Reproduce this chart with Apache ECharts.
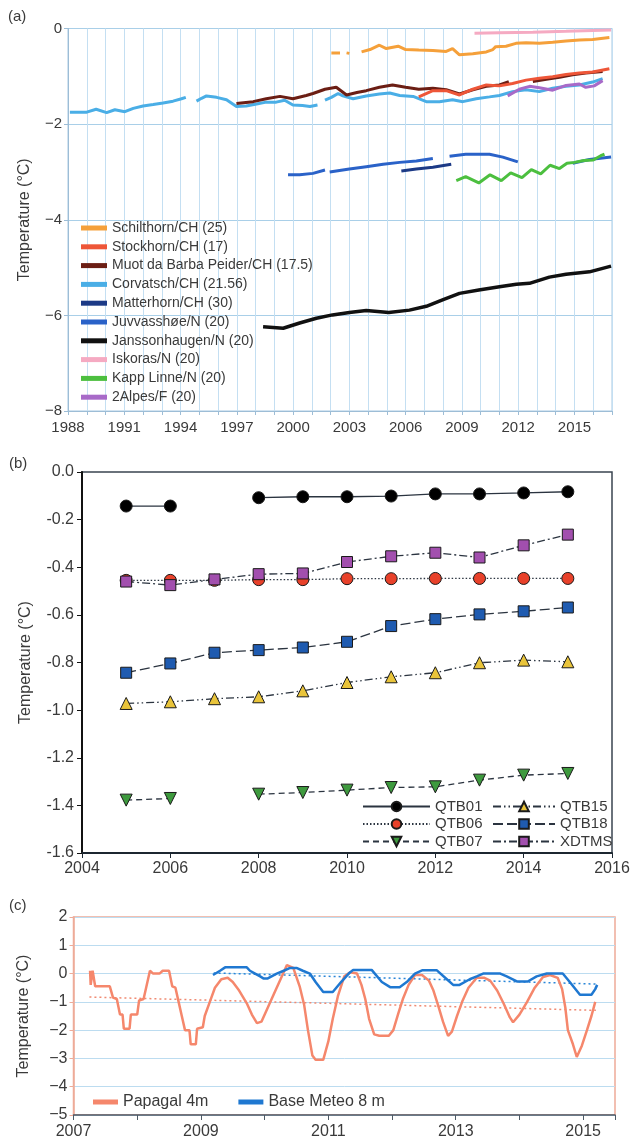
<!DOCTYPE html>
<html><head><meta charset="utf-8">
<script src="https://cdn.jsdelivr.net/npm/echarts@6/dist/echarts.min.js"></script>
<style>html,body{margin:0;padding:0;background:#fff}#c{width:635px;height:1142px}</style>
</head><body><div id="c"></div>
<script>
// ---------- Panel (a) data: [year, temperature] ----------
const schilthorn = [[2002.04,-0.51],[2002.5,-0.51],[2002.6,'-'],[2002.85,-0.51],[2003.0,-0.52],[2003.3,'-'],[2003.65,-0.49],[2004.1,-0.44],[2004.6,-0.35],[2004.97,-0.42],[2005.6,-0.37],[2006.0,-0.44],[2006.7,-0.45],[2007.45,-0.46],[2008.16,-0.48],[2008.5,-0.42],[2008.87,-0.55],[2009.58,-0.53],[2010.3,-0.49],[2010.65,-0.44],[2010.8,-0.38],[2011.35,-0.37],[2011.88,-0.31],[2012.42,-0.30],[2013.13,-0.31],[2013.84,-0.29],[2014.55,-0.26],[2015.26,-0.24],[2015.97,-0.23],[2016.86,-0.19]];
const stockhorn = [[2006.7,-1.43],[2007.45,-1.30],[2008.16,-1.30],[2008.87,-1.39],[2009.58,-1.27],[2010.3,-1.18],[2011.0,-1.20],[2011.7,-1.15],[2012.42,-1.08],[2013.13,-1.04],[2013.84,-1.01],[2014.55,-0.96],[2015.26,-0.93],[2015.97,-0.91],[2016.86,-0.84]];
const muot = [[1996.98,-1.57],[1997.87,-1.53],[1998.57,-1.47],[1999.3,-1.42],[1999.99,-1.47],[2000.7,-1.40],[2001.06,-1.36],[2001.7,-1.27],[2002.3,-1.23],[2002.85,-1.39],[2003.4,-1.34],[2003.9,-1.30],[2004.6,-1.23],[2005.3,-1.18],[2006.0,-1.23],[2006.7,-1.27],[2007.45,-1.25],[2008.16,-1.28],[2008.87,-1.37],[2009.58,-1.28],[2010.3,-1.21],[2011.0,-1.18],[2011.5,-1.11],[2012.0,'-'],[2012.78,-1.11],[2013.5,-1.06],[2014.2,-1.02],[2014.9,-0.97],[2015.6,-0.93],[2016.5,-0.90]];
const corvatsch = [[1988.1,-1.75],[1989.0,-1.75],[1989.5,-1.69],[1990.06,-1.76],[1990.5,-1.70],[1991.03,-1.74],[1991.48,-1.67],[1992.0,-1.62],[1992.54,-1.59],[1993.07,-1.56],[1993.6,-1.52],[1994.05,-1.47],[1994.28,-1.44],[1994.5,'-'],[1994.85,-1.52],[1995.12,-1.46],[1995.38,-1.41],[1995.92,-1.44],[1996.45,-1.49],[1996.98,-1.63],[1997.5,-1.62],[1998.05,-1.58],[1998.57,-1.54],[1999.1,-1.54],[1999.55,-1.50],[1999.99,-1.60],[2000.5,-1.61],[2000.9,-1.63],[2001.3,-1.60],[2001.5,'-'],[2001.7,-1.50],[2002.04,-1.44],[2002.4,-1.36],[2002.65,-1.41],[2003.2,-1.47],[2003.9,-1.41],[2004.6,-1.37],[2005.15,-1.35],[2005.68,-1.40],[2006.4,-1.42],[2007.1,-1.53],[2007.8,-1.53],[2008.5,-1.49],[2009.05,-1.53],[2009.76,-1.47],[2010.47,-1.43],[2011.0,-1.40],[2011.7,-1.32],[2012.42,-1.28],[2013.13,-1.32],[2013.84,-1.25],[2014.55,-1.21],[2015.26,-1.18],[2015.97,-1.12],[2016.5,-1.05]];
const matterhorn = [[2005.77,-2.98],[2006.57,-2.94],[2007.45,-2.90],[2008.43,-2.84]];
const juvvasshoe = [[1999.73,-3.06],[2000.35,-3.06],[2001.06,-3.03],[2001.7,-2.96],[2001.8,'-'],[2001.95,-3.00],[2003.0,-2.94],[2003.9,-2.89],[2004.8,-2.84],[2005.68,-2.80],[2006.57,-2.77],[2007.45,-2.72],[2007.9,'-'],[2008.34,-2.67],[2009.2,-2.63],[2010.47,-2.63],[2011.18,-2.69],[2011.98,-2.79],[2013.5,'-'],[2014.9,-2.82],[2015.8,-2.74],[2016.95,-2.69]];
const janssonhaugen = [[1998.4,-6.24],[1999.47,-6.27],[2000.35,-6.16],[2001.24,-6.06],[2002.1,-5.99],[2003.0,-5.94],[2003.9,-5.90],[2005.1,-5.94],[2006.2,-5.89],[2007.1,-5.81],[2008.0,-5.67],[2008.87,-5.54],[2009.9,-5.47],[2011.0,-5.40],[2011.9,-5.35],[2012.6,-5.33],[2013.66,-5.20],[2014.55,-5.14],[2015.8,-5.09],[2016.95,-4.97]];
const iskoras = [[2009.67,-0.10],[2011.0,-0.09],[2012.78,-0.08],[2014.55,-0.06],[2016.95,-0.03]];
const kappLinne = [[2008.7,-3.18],[2009.2,-3.10],[2009.9,-3.23],[2010.5,-3.06],[2011.1,-3.18],[2011.6,-3.02],[2012.2,-3.12],[2012.7,-2.95],[2013.2,-3.04],[2013.7,-2.86],[2014.2,-2.93],[2014.6,-2.82],[2015.0,-2.80],[2015.5,-2.76],[2016.0,-2.75],[2016.4,-2.66],[2016.6,-2.63]];
const deuxAlpes = [[2011.44,-1.41],[2012.06,-1.27],[2012.6,-1.21],[2013.13,-1.24],[2013.84,-1.29],[2014.55,-1.19],[2015.26,-1.16],[2015.6,-1.23],[2016.05,-1.20],[2016.5,-1.09]];
const namesA = ['Schilthorn/CH (25)','Stockhorn/CH (17)','Muot da Barba Peider/CH (17.5)','Corvatsch/CH (21.56)','Matterhorn/CH (30)','Juvvasshøe/N (20)','Janssonhaugen/N (20)','Iskoras/N (20)','Kapp Linne/N (20)','2Alpes/F (20)'];
const colorsA = ['#f5a03a','#ee5638','#6b1e14','#4aaee6','#1c3a86','#2a62c8','#111111','#f5aac2','#4cbf3f','#a86ac8'];
const dataA = [schilthorn, stockhorn, muot, corvatsch, matterhorn, juvvasshoe, janssonhaugen, iskoras, kappLinne, deuxAlpes];
const drawOrderA = [3,9,2,1,0,7,5,4,8,6];

// ---------- Panel (b) data ----------
const yearsB = [2005,2006,2007,2008,2009,2010,2011,2012,2013,2014,2015];
const QTB01 = [-0.143,-0.143,null,-0.108,-0.104,-0.104,-0.101,-0.092,-0.092,-0.088,-0.083];
const QTB06 = [-0.455,-0.455,-0.455,-0.452,-0.452,-0.448,-0.448,-0.447,-0.447,-0.447,-0.447];
const QTB07 = [-1.378,-1.371,null,-1.353,-1.346,-1.336,-1.325,-1.322,-1.294,-1.273,-1.266];
const QTB15 = [-0.972,-0.965,-0.952,-0.944,-0.919,-0.884,-0.860,-0.843,-0.801,-0.790,-0.797];
const QTB18 = [-0.843,-0.804,-0.759,-0.748,-0.737,-0.713,-0.647,-0.618,-0.598,-0.585,-0.569];
const XDTMS = [-0.460,-0.475,-0.451,-0.429,-0.426,-0.378,-0.354,-0.339,-0.359,-0.308,-0.263];

// ---------- Panel (c) data ----------
const papagal = [[2007.26,0.1],[2007.27,-0.4],[2007.3,0.1],[2007.33,0.1],[2007.34,-0.45],[2007.57,-0.45],[2007.62,-0.85],[2007.68,-0.9],[2007.73,-1.45],[2007.77,-1.45],[2007.79,-1.95],[2007.88,-1.95],[2007.9,-1.45],[2008.0,-1.45],[2008.03,-0.95],[2008.1,-0.9],[2008.14,-0.5],[2008.2,0.1],[2008.25,0.0],[2008.35,0.0],[2008.4,0.1],[2008.5,0.1],[2008.55,-0.45],[2008.6,-0.5],[2008.65,-1.0],[2008.7,-1.5],[2008.75,-2.0],[2008.82,-2.0],[2008.84,-2.5],[2008.92,-2.5],[2008.94,-1.95],[2009.03,-1.9],[2009.06,-1.5],[2009.14,-1.0],[2009.22,-0.5],[2009.32,-0.2],[2009.42,-0.15],[2009.5,-0.3],[2009.6,-0.6],[2009.72,-1.05],[2009.8,-1.45],[2009.88,-1.75],[2009.95,-1.7],[2010.04,-1.25],[2010.14,-0.75],[2010.25,-0.2],[2010.35,0.3],[2010.45,0.2],[2010.55,-0.45],[2010.62,-1.1],[2010.68,-2.0],[2010.75,-2.9],[2010.8,-3.05],[2010.92,-3.05],[2011.0,-2.4],[2011.07,-1.6],[2011.15,-0.8],[2011.25,-0.1],[2011.35,0.05],[2011.45,0.0],[2011.52,-0.4],[2011.58,-0.9],[2011.64,-1.6],[2011.72,-2.15],[2011.8,-2.2],[2011.95,-2.2],[2012.02,-2.0],[2012.1,-1.4],[2012.17,-0.9],[2012.26,-0.4],[2012.36,-0.05],[2012.47,-0.05],[2012.58,-0.25],[2012.65,-0.6],[2012.72,-1.1],[2012.8,-1.7],[2012.88,-2.2],[2012.94,-2.05],[2013.02,-1.5],[2013.1,-1.0],[2013.2,-0.5],[2013.33,-0.15],[2013.45,-0.15],[2013.54,-0.25],[2013.65,-0.6],[2013.75,-1.05],[2013.85,-1.55],[2013.9,-1.72],[2014.0,-1.45],[2014.12,-1.0],[2014.24,-0.5],[2014.37,-0.12],[2014.48,-0.05],[2014.6,-0.15],[2014.67,-0.55],[2014.72,-1.2],[2014.76,-2.0],[2014.84,-2.5],[2014.9,-2.95],[2014.98,-2.55],[2015.06,-2.0],[2015.13,-1.5],[2015.19,-1.0]];
const baseMeteo = [[2009.19,-0.05],[2009.22,0.0],[2009.3,0.1],[2009.38,0.22],[2009.72,0.22],[2009.77,0.1],[2009.85,0.0],[2009.93,-0.1],[2009.98,-0.17],[2010.05,-0.17],[2010.08,-0.1],[2010.19,0.0],[2010.3,0.1],[2010.4,0.2],[2010.5,0.2],[2010.6,0.1],[2010.71,0.0],[2010.8,-0.3],[2010.92,-0.65],[2011.07,-0.65],[2011.2,-0.3],[2011.32,0.0],[2011.39,0.13],[2011.68,0.13],[2011.84,-0.3],[2011.97,-0.48],[2012.12,-0.48],[2012.23,-0.3],[2012.36,0.0],[2012.48,0.12],[2012.7,0.12],[2012.86,-0.2],[2012.96,-0.4],[2013.06,-0.4],[2013.22,-0.2],[2013.33,-0.1],[2013.43,0.0],[2013.7,0.0],[2013.8,-0.1],[2013.96,-0.28],[2014.13,-0.28],[2014.27,-0.1],[2014.43,0.0],[2014.68,0.0],[2014.79,-0.3],[2014.95,-0.75],[2015.13,-0.75],[2015.19,-0.55],[2015.22,-0.4]];
const papagalTrend = [[2007.25,-0.83],[2015.2,-1.3]];
const baseMeteoTrend = [[2009.2,0.02],[2015.2,-0.37]];

// ---------- tick label helpers ----------
const minus = v => String(v).replace('-', '\u2212');
const FONT = 'Liberation Sans, Arial, sans-serif';
const TXT = '#3a3a3a';

const chart = echarts.init(document.getElementById('c'), null, {renderer:'canvas'});

const series = [];
drawOrderA.forEach(i => {
  series.push({name:namesA[i], type:'line', xAxisIndex:0, yAxisIndex:0, data:dataA[i],
    showSymbol:false, symbol:'none', connectNulls:false, smooth:false,
    lineStyle:{color:colorsA[i], width:(i===6?3.5:3)}, itemStyle:{color:colorsA[i]}, z:2+ drawOrderA.indexOf(i)});
});

const bDefs = [
  {name:'QTB01', vals:QTB01, sym:'circle', size:12, fill:'#000000', dash:'solid'},
  {name:'QTB06', vals:QTB06, sym:'circle', size:12, fill:'#e8412a', dash:[1.5,2]},
  {name:'QTB07', vals:QTB07, sym:'triangle', size:12, fill:'#3e9a3e', dash:[6,4], rot:180},
  {name:'QTB15', vals:QTB15, sym:'triangle', size:12, fill:'#e9c43a', dash:[8,3,1.5,3,1.5,3]},
  {name:'QTB18', vals:QTB18, sym:'rect', size:11, fill:'#1f5bb0', dash:[10,4]},
  {name:'XDTMS', vals:XDTMS, sym:'rect', size:11, fill:'#a24fae', dash:[8,3,2,3]}
];
bDefs.forEach(d => {
  series.push({name:d.name, type:'line', xAxisIndex:1, yAxisIndex:1,
    data: yearsB.map((y,k)=>[y, d.vals[k]===null ? '-' : d.vals[k]]),
    symbol:d.sym, symbolSize:d.size, symbolRotate:d.rot||0, showSymbol:true, connectNulls:false,
    lineStyle:{color:'#2b3440', width:1.3, type:d.dash},
    itemStyle:{color:d.fill, borderColor:'#1a1a1a', borderWidth:1}, z:5});
});

series.push({name:'Papagal trend', type:'line', xAxisIndex:2, yAxisIndex:2, data:papagalTrend, showSymbol:false, symbol:'none',
  lineStyle:{color:'#f08a72', width:1.5, type:[2,3]}, z:3});
series.push({name:'Base Meteo trend', type:'line', xAxisIndex:2, yAxisIndex:2, data:baseMeteoTrend, showSymbol:false, symbol:'none',
  lineStyle:{color:'#2a86d8', width:1.5, type:[2,3]}, z:3});
series.push({name:'Papagal 4m', type:'line', xAxisIndex:2, yAxisIndex:2, data:papagal, showSymbol:false, symbol:'none',
  lineStyle:{color:'#f5876c', width:2.5}, itemStyle:{color:'#f5876c'}, z:4});
series.push({name:'Base Meteo 8 m', type:'line', xAxisIndex:2, yAxisIndex:2, data:baseMeteo, showSymbol:false, symbol:'none',
  lineStyle:{color:'#1f78d1', width:2.5}, itemStyle:{color:'#1f78d1'}, z:5});

const option = {
  backgroundColor:'#ffffff',
  animation:false,
  textStyle:{fontFamily:FONT},
  grid:[
    {left:68, top:28.5, width:544, height:382.5, show:true, borderColor:'#a6c8e2', borderWidth:1, backgroundColor:'transparent'},
    {left:82, top:472, width:530, height:381, show:true, borderColor:'#3a4450', borderWidth:1.5, backgroundColor:'transparent'},
    {left:73.5, top:917, width:541.5, height:198, show:true, borderColor:'#eeab98', borderWidth:1.5, backgroundColor:'transparent'}
  ],
  xAxis:[
    {gridIndex:0, type:'value', min:1988, max:2017, interval:1,
      axisLine:{show:true, onZero:false, lineStyle:{color:'#9dbdd6'}},
      axisTick:{show:true, length:4, lineStyle:{color:'#9dbdd6'}},
      axisLabel:{fontSize:15, color:TXT, margin:9, fontFamily:FONT, formatter:v => ((v-1988)%3===0 ? String(v) : '')},
      splitLine:{show:true, lineStyle:{color:'#c4dff2', width:1}}},
    {gridIndex:1, type:'value', min:2004, max:2016, interval:2,
      axisLine:{show:true, onZero:false, lineStyle:{color:'#1c2630', width:1.8}},
      axisTick:{show:true, length:5, lineStyle:{color:'#1c2630'}},
      axisLabel:{fontSize:16, color:TXT, margin:8, fontFamily:FONT, formatter:v => String(v)},
      splitLine:{show:false}},
    {gridIndex:2, type:'value', min:2007, max:2015.5, interval:1,
      axisLine:{show:true, onZero:false, lineStyle:{color:'#4d5a66', width:1.5}},
      axisTick:{show:true, length:5, lineStyle:{color:'#4d5a66'}},
      axisLabel:{fontSize:16, color:TXT, margin:9, fontFamily:FONT, formatter:v => (Number.isInteger(v) && v%2===1 ? String(v) : '')},
      splitLine:{show:false}}
  ],
  yAxis:[
    {gridIndex:0, type:'value', min:-8, max:0, interval:2,
      name:'Temperature (°C)', nameLocation:'middle', nameGap:35, nameRotate:90,
      nameTextStyle:{fontSize:16, color:TXT, fontFamily:FONT},
      axisLine:{show:true, lineStyle:{color:'#9dbdd6'}},
      axisTick:{show:true, length:4, lineStyle:{color:'#9dbdd6'}},
      axisLabel:{fontSize:15, color:TXT, margin:6, fontFamily:FONT, formatter:minus},
      splitLine:{show:true, lineStyle:{color:'#a9cfe8', width:1}}},
    {gridIndex:1, type:'value', min:-1.6, max:0, interval:0.2,
      name:'Temperature (°C)', nameLocation:'middle', nameGap:48, nameRotate:90,
      nameTextStyle:{fontSize:16, color:TXT, fontFamily:FONT},
      axisLine:{show:true, lineStyle:{color:'#111', width:2}},
      axisTick:{show:true, length:5, lineStyle:{color:'#111'}},
      axisLabel:{fontSize:16, color:TXT, margin:8, fontFamily:FONT, formatter:v => v.toFixed(1)},
      splitLine:{show:false}},
    {gridIndex:2, type:'value', min:-5, max:2, interval:1,
      name:'Temperature (°C)', nameLocation:'middle', nameGap:42, nameRotate:90,
      nameTextStyle:{fontSize:16, color:TXT, fontFamily:FONT},
      axisLine:{show:true, lineStyle:{color:'#eeab98', width:1.5}},
      axisTick:{show:true, length:4, lineStyle:{color:'#eeab98'}},
      axisLabel:{fontSize:16, color:TXT, margin:6, fontFamily:FONT, formatter:minus},
      splitLine:{show:true, lineStyle:{color:'#bcdcf0', width:1}}}
  ],
  legend:[
    {data:namesA, orient:'vertical', left:76, top:215, icon:'rect', itemWidth:26, itemHeight:5, itemGap:2.8,
      textStyle:{fontSize:14, color:TXT, lineHeight:16, fontFamily:FONT}, selectedMode:false},
    {data:['QTB01','QTB06','QTB07'], orient:'vertical', left:357, top:794, itemWidth:67, itemHeight:12, itemGap:2.5,
      textStyle:{fontSize:15, color:TXT, lineHeight:13, fontFamily:FONT}, selectedMode:false},
    {data:['QTB15','QTB18','XDTMS'], orient:'vertical', left:487, top:794, itemWidth:62, itemHeight:12, itemGap:2.5,
      textStyle:{fontSize:15, color:TXT, lineHeight:13, fontFamily:FONT}, selectedMode:false},
    {data:['Papagal 4m','Base Meteo 8 m'], orient:'horizontal', left:88, top:1089, icon:'rect', itemWidth:25, itemHeight:5, itemGap:30,
      textStyle:{fontSize:16, color:TXT, fontFamily:FONT}, selectedMode:false}
  ],
  graphic:[
    {type:'text', left:8, top:9, style:{text:'(a)', fontSize:15, fill:TXT, fontFamily:FONT}},
    {type:'text', left:9, top:456, style:{text:'(b)', fontSize:15, fill:TXT, fontFamily:FONT}},
    {type:'text', left:9, top:898, style:{text:'(c)', fontSize:15, fill:TXT, fontFamily:FONT}}
  ],
  series:series
};
chart.setOption(option);
</script></body></html>
